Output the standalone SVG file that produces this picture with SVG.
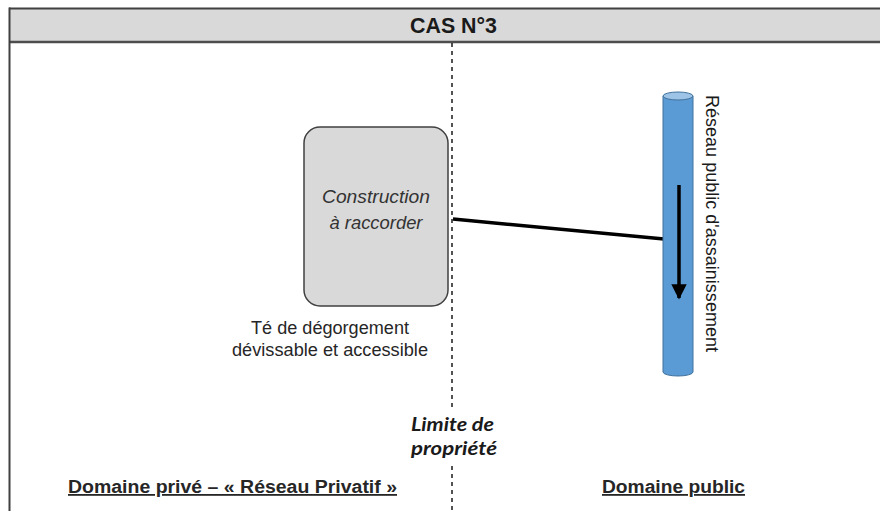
<svg xmlns="http://www.w3.org/2000/svg" width="880" height="511" viewBox="0 0 880 511">
  <style>
    .sans { font-family: "Liberation Sans", Arial, sans-serif; }
    .label { font-size: 17.5px; fill: #262626; }
    .domain { font-size: 18px; font-weight: bold; fill: #262626; text-decoration: underline; }
    .limit { font-family: Lato, "Open Sans", "Liberation Sans", sans-serif; font-size: 19px; font-weight: bold; font-style: italic; fill: #1a1a1a; }
  </style>
  <defs>
    <marker id="flowHead" viewBox="0 0 10 10" refX="9" refY="5" markerWidth="4.4" markerHeight="4.4" markerUnits="strokeWidth" orient="auto">
      <path d="M0,0 L10,5 L0,10 Z" fill="#000"/>
    </marker>
  </defs>

  <rect width="880" height="511" fill="#ffffff"/>

  <!-- frame and title band -->
  <g id="header">
    <rect x="9" y="8" width="880" height="34" fill="#d9d9d9"/>
    <line x1="9" y1="8.5" x2="880" y2="8.5" stroke="#404040" stroke-width="2"/>
    <line x1="9" y1="42" x2="880" y2="42" stroke="#4d4d4d" stroke-width="2.5"/>
    <line x1="9.5" y1="7.5" x2="9.5" y2="511" stroke="#404040" stroke-width="2"/>
    <text class="sans" x="453.5" y="33" text-anchor="middle" font-size="21.5" font-weight="bold" fill="#1a1a1a" textLength="87" lengthAdjust="spacingAndGlyphs">CAS N°3</text>
  </g>

  <!-- property boundary -->
  <g id="boundary">
    <line x1="452" y1="43" x2="452" y2="410" stroke="#1a1a1a" stroke-width="1.5" stroke-dasharray="4 4"/>
    <line x1="452" y1="466" x2="452" y2="511" stroke="#1a1a1a" stroke-width="1.5" stroke-dasharray="4 4"/>
    <text class="limit" x="452.5" y="431" text-anchor="middle" textLength="83" lengthAdjust="spacingAndGlyphs">Limite de</text>
    <text class="limit" x="454" y="455" text-anchor="middle" textLength="86" lengthAdjust="spacingAndGlyphs">propriété</text>
  </g>

  <!-- connectors -->
  <g id="connectors">
    <line x1="453" y1="219" x2="664" y2="239" stroke="#000" stroke-width="3.5"/>
  </g>

  <g id="construction">
    <rect x="304" y="127" width="144" height="179" rx="16" ry="16" fill="#d9d9d9" stroke="#404040" stroke-width="1.5"/>
    <text class="sans" x="376" y="203" text-anchor="middle" font-size="18.5" font-style="italic" fill="#333" textLength="108" lengthAdjust="spacingAndGlyphs">Construction</text>
    <text class="sans" x="376" y="229" text-anchor="middle" font-size="18.5" font-style="italic" fill="#333" textLength="93" lengthAdjust="spacingAndGlyphs">à raccorder</text>
  </g>

  <g id="te-degorgement">
    <text class="sans label" x="330" y="334" text-anchor="middle" textLength="158" lengthAdjust="spacingAndGlyphs">Té de dégorgement</text>
    <text class="sans label" x="330" y="356" text-anchor="middle" textLength="196" lengthAdjust="spacingAndGlyphs">dévissable et accessible</text>
  </g>

  <!-- public sewer main -->
  <g id="reseau-public">
    <path d="M663,96 L663,372 A15,4 0 0 0 693,372 L693,96 Z" fill="#5b9bd5" stroke="#41719c" stroke-width="1"/>
    <ellipse cx="678" cy="96" rx="15" ry="4" fill="#9dc3e6" stroke="#41719c" stroke-width="1"/>
    <line x1="679" y1="185" x2="679" y2="298" stroke="#000" stroke-width="3.5" marker-end="url(#flowHead)"/>
    <text class="sans" transform="translate(706,95) rotate(90)" font-size="17.5" fill="#1a1a1a" textLength="257" lengthAdjust="spacingAndGlyphs">Réseau public d'assainissement</text>
  </g>

  <g id="domaines">
    <text class="sans domain" x="232.5" y="493" text-anchor="middle" textLength="329" lengthAdjust="spacingAndGlyphs">Domaine privé – « Réseau Privatif »</text>
    <text class="sans domain" x="673.5" y="493" text-anchor="middle" textLength="143" lengthAdjust="spacingAndGlyphs">Domaine public</text>
  </g>
</svg>
